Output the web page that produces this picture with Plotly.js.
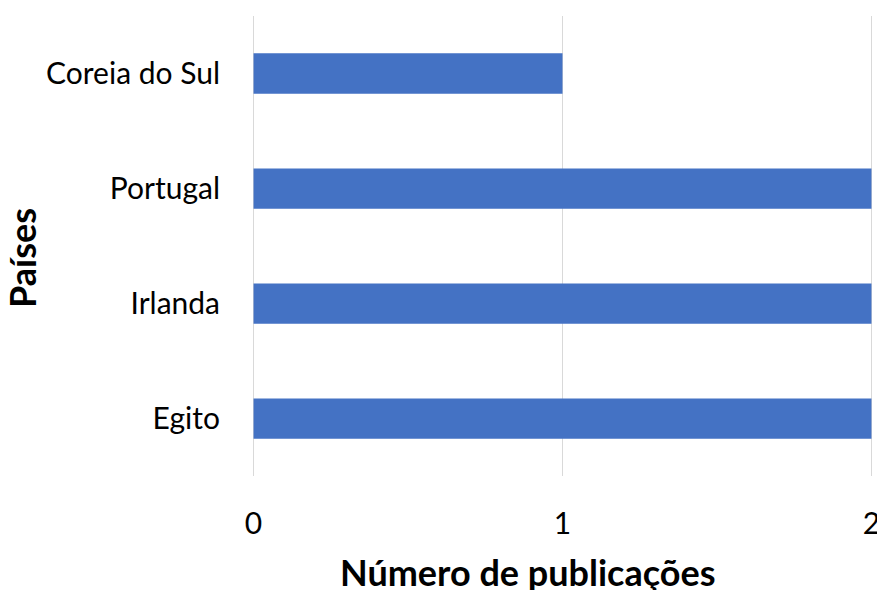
<!DOCTYPE html>
<html>
<head>
<meta charset="utf-8">
<script src="https://cdn.plot.ly/plotly-3.0.1.min.js"></script>
<style>
  html, body { margin: 0; padding: 0; background: #fff; }
  #chart { width: 877px; height: 590px; }
</style>
</head>
<body>
<div id="chart"></div>
<script>
const paises = ['Egito', 'Irlanda', 'Portugal', 'Coreia do Sul'];
const publicacoes = [2, 2, 2, 1];
const xTicks = [0, 1, 2];

const font = 'Lato, "Open Sans", sans-serif';

Plotly.newPlot('chart', [{
    type: 'bar',
    orientation: 'h',
    y: paises,
    x: publicacoes,
    marker: { color: '#4472C4' },
    hoverinfo: 'x+y'
}], {
    width: 877,
    height: 590,
    margin: { l: 252, r: 4, t: 16, b: 114 },
    paper_bgcolor: '#fff',
    plot_bgcolor: '#fff',
    bargap: 0.65,
    showlegend: false,
    font: { family: font, size: 30, color: '#000' },
    xaxis: {
        // a hair of padding so the gridlines at 0 and 2 are still drawn
        range: [-0.005, 2.005],
        tickvals: xTicks,
        showgrid: true,
        gridcolor: '#d9d9d9',
        gridwidth: 1,
        zeroline: false,
        showline: false,
        ticks: '',
        ticklabeloverflow: 'allow',
        ticklabelstandoff: 27,
        tickfont: { family: font, size: 30, color: '#000' }
    },
    yaxis: {
        showgrid: false,
        zeroline: false,
        showline: false,
        ticks: '',
        ticklabelstandoff: 31,
        tickfont: { family: font, size: 30, color: '#000' }
    },
    annotations: [{
        text: '<b>Número de publicações</b>',
        xref: 'paper', yref: 'paper',
        x: (528 - 252) / 621, y: 0,
        xanchor: 'center', yanchor: 'middle',
        yshift: -96,
        showarrow: false,
        font: { family: font, size: 36, color: '#000' }
    }, {
        text: '<b>Países</b>',
        xref: 'paper', yref: 'paper',
        x: 0, xshift: -230,
        y: (476 - 258) / 460,
        xanchor: 'center', yanchor: 'middle',
        textangle: -90,
        showarrow: false,
        font: { family: font, size: 36, color: '#000' }
    }]
}, { displayModeBar: false, staticPlot: true });
</script>
</body>
</html>
